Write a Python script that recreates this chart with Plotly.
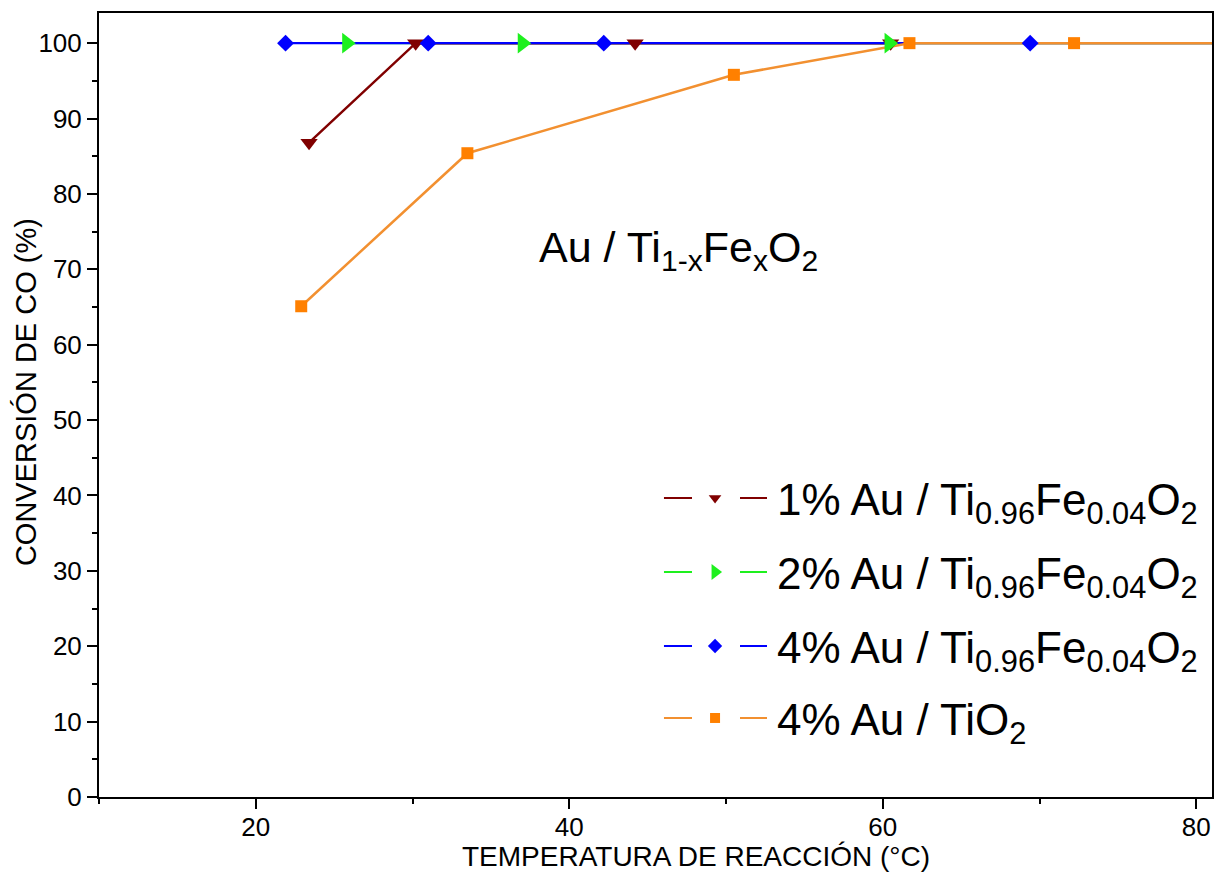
import plotly.graph_objects as go

# CO conversion (%) versus reaction temperature (°C) for each catalyst
t_1au = [23.4, 30.2, 44.2, 60.5]
co_1au = [86.8, 100, 100, 100]

t_2au = [25.8, 37.0, 60.4, 81.4]
co_2au = [100, 100, 100, 100]

t_4au = [21.9, 31.0, 42.2, 69.4, 83.0]
co_4au = [100, 100, 100, 100, 100]

t_tio2 = [22.9, 33.5, 50.5, 61.7, 72.2, 83.0]
co_tio2 = [65.1, 85.4, 95.8, 100, 100, 100]

x_ticks = [20, 40, 60, 80]
y_ticks = [0, 10, 20, 30, 40, 50, 60, 70, 80, 90, 100]

labels = [
    "1% Au / Ti<sub>0.96</sub>Fe<sub>0.04</sub>O<sub>2</sub>",
    "2% Au / Ti<sub>0.96</sub>Fe<sub>0.04</sub>O<sub>2</sub>",
    "4% Au / Ti<sub>0.96</sub>Fe<sub>0.04</sub>O<sub>2</sub>",
    "4% Au / TiO<sub>2</sub>",
]

DARKRED = "#800000"
GREEN = "#1EF01E"
BLUE = "#0000FF"
ORANGE = "#FF8000"
ORANGE_LINE = "#F29030"

FONT = "Liberation Sans, Arial, sans-serif"

series = [
    (t_1au, co_1au, DARKRED, DARKRED, "triangle-down", 15, 2.5),
    (t_2au, co_2au, GREEN, GREEN, "triangle-right", 18, 2),
    (t_4au, co_4au, BLUE, BLUE, "diamond", 13, 2.2),
    (t_tio2, co_tio2, ORANGE_LINE, ORANGE, "square", 12, 2.5),
]

fig = go.Figure()

# all connecting lines first (green, dark red, blue, orange) ...
for idx in [1, 0, 2, 3]:
    x, y, lc, mc, sym, sz, lw = series[idx]
    fig.add_trace(go.Scatter(
        x=x, y=y, mode="lines", line=dict(color=lc, width=lw),
        showlegend=False, hoverinfo="skip",
    ))
# ... then the symbols on top (dark red, blue, green, orange)
for idx in [0, 2, 1, 3]:
    x, y, lc, mc, sym, sz, lw = series[idx]
    fig.add_trace(go.Scatter(
        x=x, y=y, mode="markers",
        marker=dict(symbol=sym, size=sz, color=mc, line=dict(width=0)),
        showlegend=False, hoverinfo="skip",
    ))

# hand-built legend: "— marker —" key followed by the label
row_y = [0.3814, 0.287, 0.1926, 0.1008]
key_l = (0.5076, 0.5328)
key_r = (0.5759, 0.6002)
key_m = 0.5535
legend_sizes = [11, 14, 11, 10]
for (x, y, lc, mc, sym, sz, lw), ry, lab, lsz in zip(series, row_y, labels, legend_sizes):
    for a, b in (key_l, key_r):
        fig.add_shape(type="line", xref="paper", yref="paper",
                      x0=a, x1=b, y0=ry, y1=ry,
                      line=dict(color=lc, width=2))
    fig.add_trace(go.Scatter(
        x=[key_m], y=[ry], xaxis="x2", yaxis="y2", mode="markers",
        marker=dict(symbol=sym, size=lsz, color=mc, line=dict(width=0)),
        showlegend=False, hoverinfo="skip",
    ))
    fig.add_annotation(x=0.6074, y=ry, xref="paper", yref="paper",
                       text=lab, showarrow=False, xanchor="left",
                       yanchor="middle", yshift=-5,
                       font=dict(family=FONT, size=44, color="black"))

fig.add_annotation(x=0.3935, y=0.704, xref="paper", yref="paper",
                   text="Au / Ti<sub>1-x</sub>Fe<sub>x</sub>O<sub>2</sub>",
                   showarrow=False, xanchor="left", yanchor="middle",
                   yshift=-5,
                   font=dict(family=FONT, size=43, color="black"))

axis_common = dict(
    showline=True, linecolor="black", linewidth=2, mirror=True,
    ticks="outside", ticklen=10, tickwidth=2, tickcolor="black",
    showgrid=False, zeroline=False, automargin=False,
    tickfont=dict(family=FONT, size=26, color="black"),
)

fig.update_layout(
    width=1219, height=872,
    margin=dict(l=99, r=7, t=13, b=75),
    paper_bgcolor="white", plot_bgcolor="white",
    showlegend=False,
    xaxis=dict(
        range=[10, 81], tickvals=x_ticks, ticklabelstandoff=-4,
        minor=dict(dtick=10, tick0=0, ticks="outside", ticklen=5,
                   tickwidth=2, tickcolor="black"),
        **axis_common,
    ),
    yaxis=dict(
        range=[0, 104], tickvals=y_ticks,
        minor=dict(dtick=5, tick0=0, ticks="outside", ticklen=5,
                   tickwidth=2, tickcolor="black"),
        **axis_common,
    ),
    xaxis2=dict(overlaying="x", range=[0, 1], visible=False),
    yaxis2=dict(overlaying="y", range=[0, 1], visible=False),
)

# axis titles placed as paper-anchored text
fig.add_annotation(x=0.536, y=-0.0765, xref="paper", yref="paper",
                   text="TEMPERATURA DE REACCIÓN (°C)", showarrow=False,
                   xanchor="center", yanchor="middle",
                   font=dict(family=FONT, size=28, color="black"))
fig.add_annotation(x=-0.065, y=0.516, xref="paper", yref="paper",
                   text="CONVERSIÓN DE CO (%)", showarrow=False,
                   textangle=-90, xanchor="center", yanchor="middle",
                   font=dict(family=FONT, size=29, color="black"))

fig.write_html("out.html")
